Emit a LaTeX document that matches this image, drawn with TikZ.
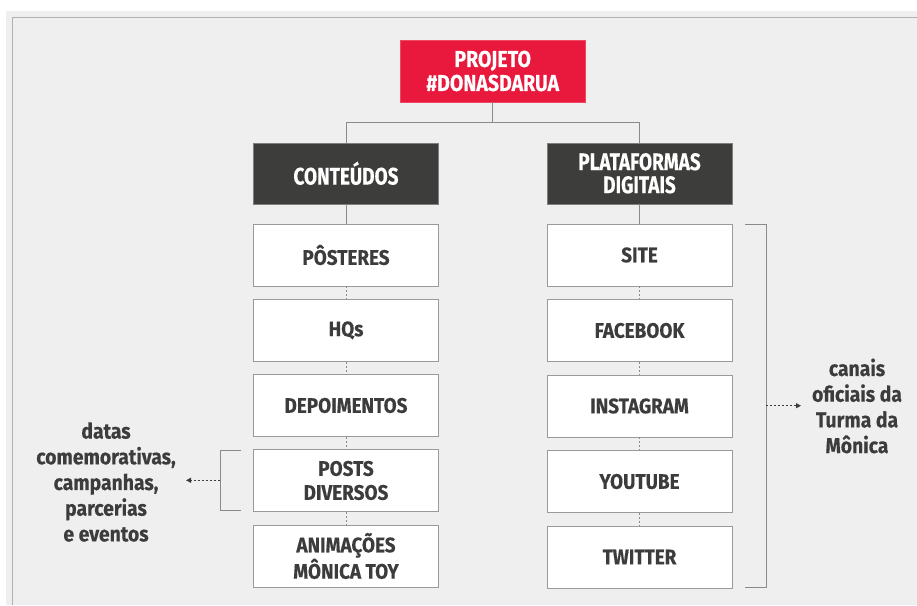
\documentclass[tikz,border=0pt]{standalone}
\usepackage{fontspec}
\setmainfont{Fira Sans}
\newfontfamily\itemfont[FakeStretch=0.9, BoldFeatures={FakeBold=0.3}]{Fira Sans}
\newfontfamily\headfont[FakeStretch=0.79, BoldFeatures={FakeBold=0.3}]{Fira Sans}
\newfontfamily\topfont[FakeStretch=0.85, BoldFeatures={FakeBold=0.3}]{Fira Sans}
\usetikzlibrary{arrows.meta}
\definecolor{panel}{HTML}{EFEFEF}
\definecolor{frameline}{HTML}{B0B0B0}
\definecolor{redbox}{HTML}{E8193C}
\definecolor{darkbox}{HTML}{3D3D3B}
\definecolor{txt}{HTML}{3C3C3C}
\definecolor{edge}{HTML}{9A9A9A}
\definecolor{conn}{HTML}{8A8A8A}
\tikzset{
  basebox/.style={minimum width=185pt, minimum height=62pt, inner sep=0pt, align=center},
  topbox/.style={basebox, fill=redbox, draw=redbox!80!white, line width=0.6pt, text=white, font=\topfont\bfseries\fontsize{23}{24}\selectfont},
  headbox/.style={basebox, minimum height=61pt, fill=darkbox, draw=edge!70!darkbox, line width=0.6pt, text=white, font=\headfont\bfseries\fontsize{24}{23}\selectfont},
  itembox/.style={basebox, fill=white, draw=edge, line width=0.8pt, text=txt, font=\itemfont\bfseries\fontsize{21}{24}\selectfont},
  solidconn/.style={draw=conn, line width=0.9pt},
  dotconn/.style={draw=conn, line width=0.9pt, dash pattern=on 2pt off 2pt},
  bracketline/.style={draw=conn, line width=0.9pt},
  sidenote/.style={align=center, text=txt, font=\itemfont\bfseries\fontsize{21.5}{25.7}\selectfont, inner sep=0pt},
  notearrow/.style={draw=conn, line width=0.9pt, dash pattern=on 2pt off 2pt, -{Triangle[length=5pt,width=5pt]}, color=txt}
}
\begin{document}
\begin{tikzpicture}[x=1pt,y=-1pt]
\useasboundingbox (0,0) rectangle (917,605);
\fill[white] (0,0) rectangle (917,605);
\fill[panel] (6,11) rectangle (917,605);
\draw[frameline, line width=0.9pt] (12,605) -- (12,17) -- (917,17);

\node[topbox] (proj) at (492.7,71) {PROJETO\\\#DONASDARUA};
\node[headbox] (cont) at (346,173.3) {CONTEÚDOS};
\node[headbox] (plat) at (639.5,173.3) {PLATAFORMAS\\DIGITAIS};

\node[itembox] (l1) at (346,255) {PÔSTERES};
\node[itembox] (l2) at (346,330.3) {HQs};
\node[itembox] (l3) at (346,405.5) {DEPOIMENTOS};
\node[itembox] (l4) at (346,480.5) {POSTS\\DIVERSOS};
\node[itembox] (l5) at (346,556) {ANIMAÇÕES\\MÔNICA TOY};

\node[itembox] (r1) at (639.5,255) {SITE};
\node[itembox] (r2) at (639.5,330.5) {FACEBOOK};
\node[itembox] (r3) at (639.5,406) {INSTAGRAM};
\node[itembox] (r4) at (639.5,481.5) {YOUTUBE};
\node[itembox] (r5) at (639.5,557) {TWITTER};

\coordinate (hy) at (0,122);
\draw[solidconn] (proj.south) -- (proj.south |- hy) -| (cont.north);
\draw[solidconn] (proj.south |- hy) -| (plat.north);
\draw[solidconn] (cont.south) -- (l1.north);
\draw[solidconn] (plat.south) -- (r1.north);
\draw[dotconn] (l1.south) -- (l2.north);
\draw[dotconn] (l2.south) -- (l3.north);
\draw[dotconn] (l3.south) -- (l4.north);
\draw[dotconn] (l4.south) -- (l5.north);
\draw[dotconn] (r1.south) -- (r2.north);
\draw[dotconn] (r2.south) -- (r3.north);
\draw[dotconn] (r3.south) -- (r4.north);
\draw[dotconn] (r4.south) -- (r5.north);

% right bracket
\coordinate (rbt) at (766,224);
\coordinate (rbb) at (766,587.7);
\coordinate (rbm) at (766,405.7);
\draw[bracketline] (745.3,224) -- (rbt) -- (rbb) -- (745.3,587.7);
\node[sidenote] (canais) at (857,406) {canais\\oficiais da\\Turma da\\Mônica};
\draw[notearrow] (rbm) -- (rbm -| 801,0);

% left bracket
\coordinate (lbt) at (220.3,450);
\coordinate (lbb) at (220.3,510.7);
\coordinate (lbm) at (220.3,480.3);
\draw[bracketline] (240.7,450) -- (lbt) -- (lbb) -- (240.7,510.7);
\node[sidenote] (datas) at (106,482) {datas\\comemorativas,\\campanhas,\\parcerias\\e eventos};
\draw[notearrow] (lbm) -- (lbm -| 186,0);
\end{tikzpicture}
\end{document}
